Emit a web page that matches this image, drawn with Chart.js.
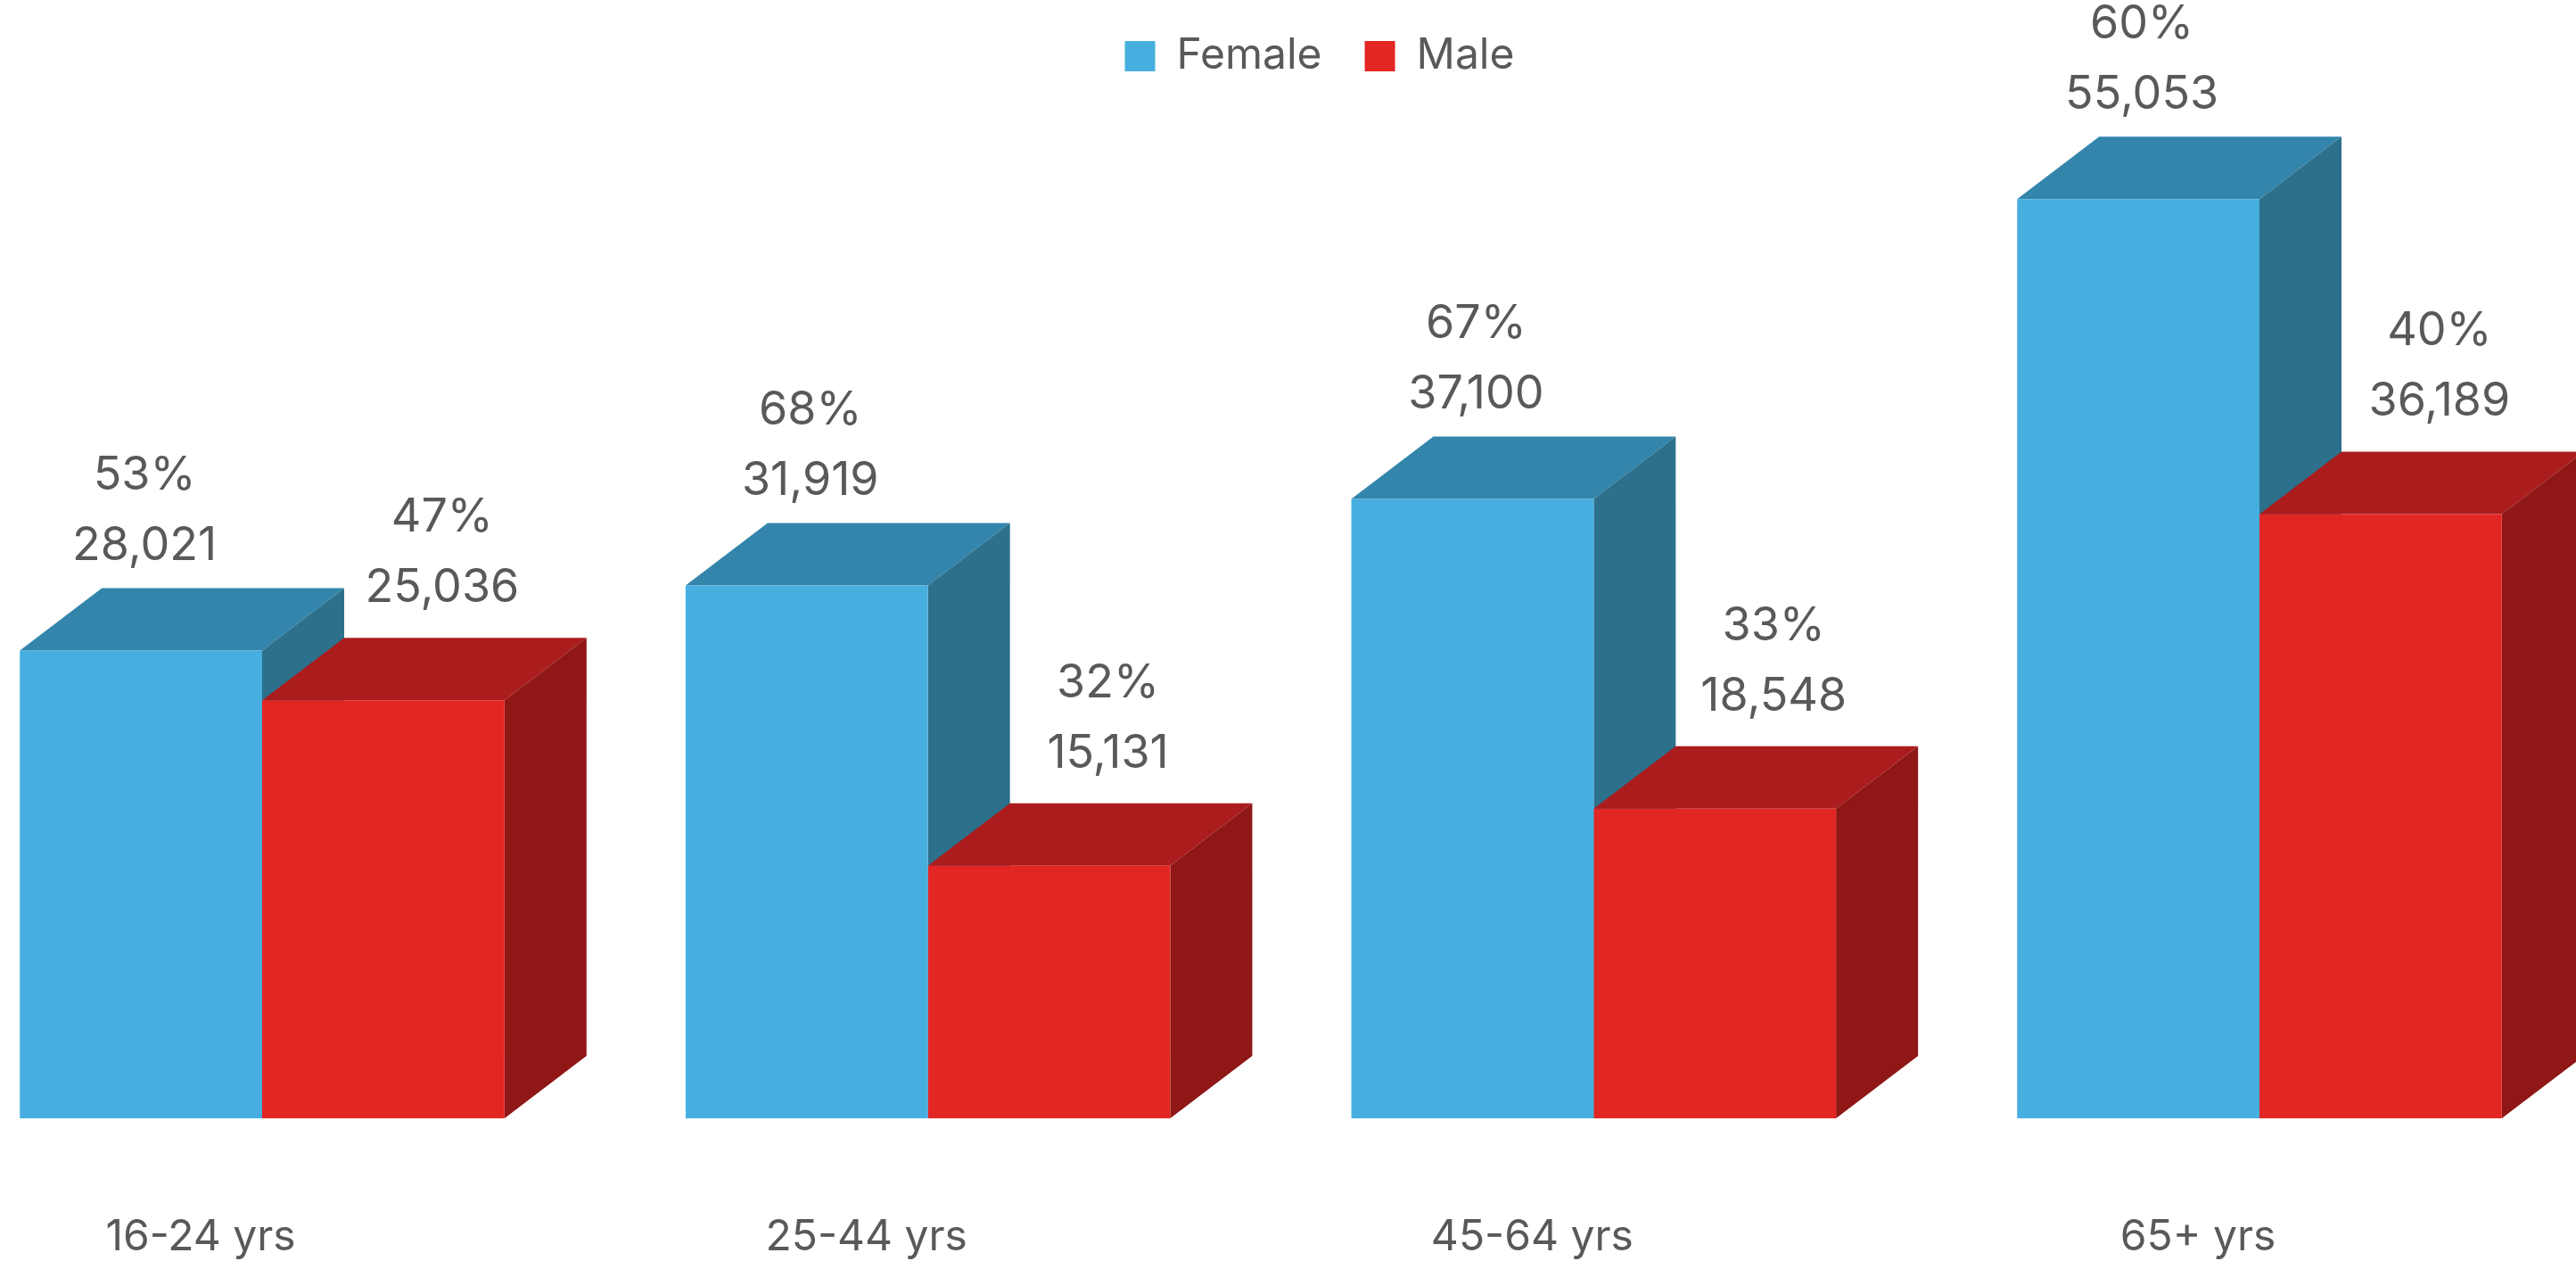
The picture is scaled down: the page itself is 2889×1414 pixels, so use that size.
<!DOCTYPE html>
<html>
<head>
<meta charset="utf-8">
<title>Female / Male by age group</title>
<script src="https://cdn.jsdelivr.net/npm/chart.js@4.4.1/dist/chart.umd.min.js"></script>
<style>
  html, body { margin: 0; padding: 0; background: #fff; }
  #wrap { width: 2889px; height: 1414px; position: relative; }
</style>
</head>
<body>
<div id="wrap"><canvas id="genderChart"></canvas></div>
<script>
// --- DATA ---
const ageGroups = ['16-24 yrs', '25-44 yrs', '45-64 yrs', '65+ yrs'];
const femaleCounts = [28021, 31919, 37100, 55053];
const maleCounts = [25036, 15131, 18548, 36189];
const femaleShare = [53, 68, 67, 60];
const maleShare = [47, 32, 33, 40];

// --- STYLE ---
const textGrey = '#595959';
const faces = [
    { front: '#47afe0', top: '#3385ab', side: '#2c708c' },  // Female
    { front: '#e22624', top: '#ab1c1d', side: '#8f1716' }   // Male
];
const DEPTH_X = 92, DEPTH_Y = 70;              // fake 3D depth
const labelShift = [{ dx: 4, dy: 101 }, { dx: 66, dy: 110 }];
const LINE_GAP = 79;

// top and side faces go behind the flat bars, so the next bar covers them
const boxes3d = {
    id: 'boxes3d',
    beforeDatasetsDraw(chart) {
        const ctx = chart.ctx;
        const n = chart.data.labels.length;
        ctx.save();
        for (let i = 0; i < n; i++) {
            chart.data.datasets.forEach((ds, d) => {
                const bar = chart.getDatasetMeta(d).data[i];
                const left = bar.x - bar.width / 2;
                const right = bar.x + bar.width / 2;
                const top = bar.y, base = bar.base;

                ctx.fillStyle = faces[d].top;
                ctx.beginPath();
                ctx.moveTo(left, top);
                ctx.lineTo(left + DEPTH_X, top - DEPTH_Y);
                ctx.lineTo(right + DEPTH_X, top - DEPTH_Y);
                ctx.lineTo(right, top);
                ctx.closePath();
                ctx.fill();

                ctx.fillStyle = faces[d].side;
                ctx.beginPath();
                ctx.moveTo(right, top);
                ctx.lineTo(right + DEPTH_X, top - DEPTH_Y);
                ctx.lineTo(right + DEPTH_X, base - DEPTH_Y);
                ctx.lineTo(right, base);
                ctx.closePath();
                ctx.fill();
            });
        }
        ctx.restore();
    }
};

// two-line labels: share on top, count below
const shareLabels = {
    id: 'shareLabels',
    afterDatasetsDraw(chart) {
        const ctx = chart.ctx;
        const shares = [femaleShare, maleShare];
        ctx.save();
        ctx.font = '52px Inter';
        ctx.fillStyle = textGrey;
        ctx.textAlign = 'center';
        ctx.textBaseline = 'alphabetic';
        chart.data.datasets.forEach((ds, d) => {
            chart.getDatasetMeta(d).data.forEach((bar, i) => {
                const x = bar.x + labelShift[d].dx;
                const y = bar.y - labelShift[d].dy;
                ctx.fillText(shares[d][i] + '%', x, y - LINE_GAP);
                ctx.fillText(ds.data[i].toLocaleString('en-US'), x, y);
            });
        });
        ctx.restore();
    }
};

// the legend in the original sits a bit right of the bar block's centre
const legendNudge = {
    id: 'legendNudge',
    afterLayout(chart) {
        chart.legend.left += 66;
        chart.legend.right += 66;
    }
};

const ctx = document.getElementById('genderChart').getContext('2d');
const genderChart = new Chart(ctx, {
    type: 'bar',
    data: {
        labels: ageGroups,
        datasets: [{
            label: 'Female', data: femaleCounts, backgroundColor: faces[0].front,
            categoryPercentage: 0.728, barPercentage: 1, clip: false
        }, {
            label: 'Male', data: maleCounts, backgroundColor: faces[1].front,
            categoryPercentage: 0.728, barPercentage: 1, clip: false
        }]
    },
    options: {
        responsive: true, maintainAspectRatio: false,
        animation: false,
        layout: { padding: { left: 294, right: 355, top: -9, bottom: 0 } },
        plugins: {
            legend: {
                position: 'top',
                labels: {
                    boxWidth: 34, boxHeight: 34, padding: 48, color: textGrey,
                    font: { family: 'Inter', size: 48 }
                }
            },
            tooltip: { enabled: false }
        },
        scales: {
            x: {
                offset: false,
                grid: { display: false, drawTicks: false },
                border: { display: false },
                ticks: {
                    color: textGrey, font: { family: 'Inter', size: 48 },
                    padding: 105, labelOffset: -69, maxRotation: 0, autoSkip: false
                },
                // fit() counts the tick padding twice; keep the axis band at 160px
                afterFit(axis) { axis.height = 160; }
            },
            y: { display: false, min: 0, max: 61800 }
        }
    },
    plugins: [boxes3d, shareLabels, legendNudge]
});
</script>
</body>
</html>
